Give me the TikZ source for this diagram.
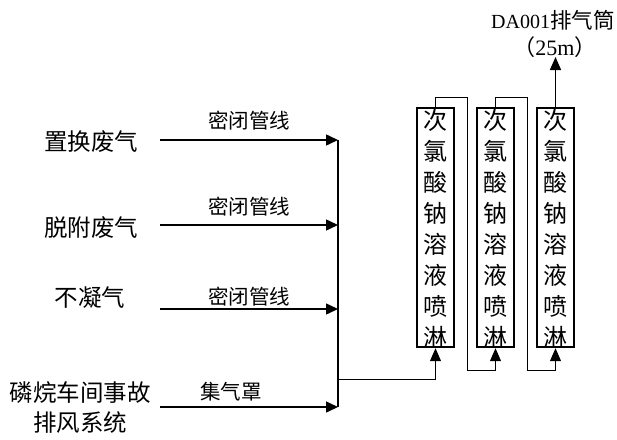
\documentclass[tikz,border=0pt]{standalone}
\usepackage{fontspec}
\setmainfont{Liberation Serif}
\newfontfamily\cjk{Noto Sans CJK SC}
\usetikzlibrary{arrows.meta}
\begin{document}
\begin{tikzpicture}[x=1pt,y=-1pt,
  lbl/.style={font=\cjk\fontsize{23.5}{30}\selectfont, inner sep=0pt, align=center},
  pipe/.style={font=\cjk\fontsize{20.5}{22}\selectfont, inner sep=0pt},
  flow/.style={line width=1.5pt, -{Triangle[length=12pt,width=11pt]}},
  tower/.style={draw, line width=2.4pt, minimum width=37pt, minimum height=239pt, inner sep=0pt},
  ttext/.style={font=\cjk\fontsize{24}{31}\selectfont, inner sep=0pt, align=center},
  link/.style={line width=1pt},
  linkarrow/.style={line width=1pt, -{Triangle[length=13pt,width=11pt]}}
]
\useasboundingbox (0,0) rectangle (617,439);

% left source labels
\node[lbl] (l1) at (91,142) {置换废气};
\node[lbl] (l2) at (91,228) {脱附废气};
\node[lbl] (l3) at (90,298) {不凝气};
\node[lbl] (l4) at (80,407) {磷烷车间事故\\排风系统};

% start and end points of feed lines
\coordinate (s1) at (160,140); \coordinate (b1) at (338,140);
\coordinate (s2) at (160,225); \coordinate (b2) at (338,225);
\coordinate (s3) at (160,309); \coordinate (b3) at (338,309);
\coordinate (s4) at (160,407); \coordinate (b4) at (338,407);

\draw[flow] (s1) -- node[pipe, above=9pt] (p1) {密闭管线} (b1);
\draw[flow] (s2) -- node[pipe, above=8pt] (p2) {密闭管线} (b2);
\draw[flow] (s3) -- node[pipe, above=2pt] (p3) {密闭管线} (b3);
\draw[flow] (s4) -- node[pipe, pos=0.4, above=5pt] (p4) {集气罩} (b4);

% collecting bus
\draw[line width=1.5pt] (b1) -- (b4);

% towers
\node[tower] (t1) at (435.5,227.5) {};
\node[tower] (t2) at (495.5,227.5) {};
\node[tower] (t3) at (555.5,227.5) {};
\foreach \t in {t1,t2,t3}
  \node[ttext] at ([yshift=-1pt]\t.center) {次\\氯\\酸\\钠\\溶\\液\\喷\\淋};

% feed from bus into tower 1
\coordinate (bj) at (338,379);
\draw[linkarrow] (bj) -| (t1.south);

% links between towers
\coordinate (c1) at (467,97);
\coordinate (c2) at (467,370);
\draw[linkarrow] (t1.north) |- (c1) -- (c2) -| (t2.south);
\coordinate (c3) at (527,97);
\coordinate (c4) at (527,370);
\draw[linkarrow] (t2.north) |- (c3) -- (c4) -| (t3.south);

% stack
\node[anchor=west, inner sep=0pt, font=\fontsize{20}{22}\selectfont] (stack) at (491,20) {DA001{\cjk\fontsize{21.5}{22}\selectfont 排气筒}};
\node[inner sep=0pt, font=\fontsize{22}{22}\selectfont] (height) at (555,47) {{\cjk （}25m{\cjk ）}};
\coordinate (st) at (555.5,57);
\draw[line width=1.5pt, -{Triangle[length=13pt,width=11pt]}] (t3.north) -- (st);
\end{tikzpicture}
\end{document}
